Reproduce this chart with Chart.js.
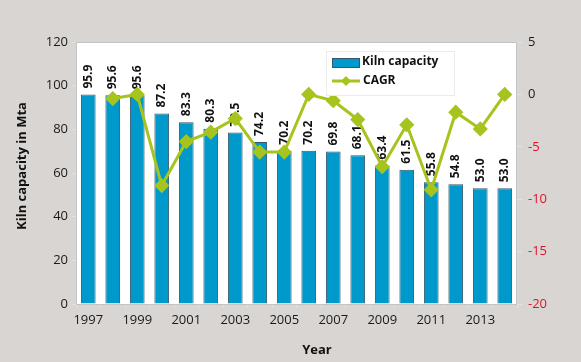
<!DOCTYPE html>
<html>
<head>
<meta charset="utf-8">
<script src="https://cdn.jsdelivr.net/npm/chart.js@4/dist/chart.umd.min.js"></script>
<style>
  html, body { margin: 0; padding: 0; background: #d9d5d2; }
  #wrap { width: 581px; height: 362px; position: relative; }
</style>
</head>
<body>
<div id="wrap"><canvas id="kilnChart" width="581" height="362"></canvas></div>
<script>
// ── Data ──────────────────────────────────────────────────────
const years = ['1997','1998','1999','2000','2001','2002','2003','2004','2005',
               '2006','2007','2008','2009','2010','2011','2012','2013','2014'];
const kilnCapacity = [95.9, 95.6, 95.6, 87.2, 83.3, 80.3, 78.5, 74.2, 70.2,
                      70.2, 69.8, 68.1, 63.4, 61.5, 55.8, 54.8, 53.0, 53.0];
const cagr = [null, -0.4, 0.0, -8.7, -4.5, -3.6, -2.3, -5.5, -5.5,
              0.0, -0.6, -2.4, -6.9, -2.9, -9.1, -1.7, -3.3, 0.0];
const capacityTicks = [0, 20, 40, 60, 80, 100, 120];
const cagrTicks = [-20, -15, -10, -5, 0, 5];

const BAR = '#0099cc', BAR_EDGE = '#35576a', LINE = '#a6c41e';
const FONT = '"Open Sans", "DejaVu Sans", sans-serif';

// ── Plugins ───────────────────────────────────────────────────
const plotFrame = {
  id: 'plotFrame',
  beforeDraw(chart) {
    const { ctx, chartArea: a } = chart;
    ctx.save();
    ctx.fillStyle = '#ffffff';
    ctx.fillRect(a.left, a.top, a.width, a.height);
    ctx.restore();
  },
  beforeDatasetsDraw(chart) {
    const { ctx, chartArea: a } = chart;
    ctx.save();
    ctx.strokeStyle = '#c4c4c4';
    ctx.lineWidth = 1;
    ctx.strokeRect(a.left + 0.5, a.top + 0.5, a.width - 1, a.height);
    ctx.restore();
  },
};

// value labels, drawn right after the bars so the line sits on top
const barLabels = {
  id: 'barLabels',
  afterDatasetDraw(chart, args) {
    if (args.index !== 0) return;
    const ctx = chart.ctx;
    ctx.save();
    ctx.font = 'bold 12px ' + FONT;
    ctx.fillStyle = '#111';
    ctx.textAlign = 'left';
    ctx.textBaseline = 'middle';
    args.meta.data.forEach((bar, i) => {
      ctx.save();
      ctx.translate(bar.x, bar.y - 6);
      ctx.rotate(-Math.PI / 2);
      ctx.fillText(kilnCapacity[i].toFixed(1), 0, 0);
      ctx.restore();
    });
    ctx.restore();
  },
};

const legendAndTitles = {
  id: 'legendAndTitles',
  afterDraw(chart) {
    const ctx = chart.ctx;
    const ds = chart.data.datasets;
    ctx.save();
    // legend box
    ctx.fillStyle = '#ffffff';
    ctx.fillRect(326, 51, 128, 44);
    ctx.strokeStyle = '#ebebeb';
    ctx.strokeRect(326.5, 51.5, 128, 44);
    ctx.fillStyle = BAR;
    ctx.fillRect(332, 58, 28, 10);
    ctx.strokeStyle = BAR_EDGE;
    ctx.lineWidth = 1;
    ctx.strokeRect(332.5, 58.5, 27, 9);
    ctx.strokeStyle = LINE;
    ctx.lineWidth = 3;
    ctx.beginPath(); ctx.moveTo(332, 81); ctx.lineTo(360, 81); ctx.stroke();
    ctx.fillStyle = LINE;
    ctx.beginPath();
    ctx.moveTo(346, 76); ctx.lineTo(351, 81); ctx.lineTo(346, 86); ctx.lineTo(341, 81);
    ctx.closePath(); ctx.fill();
    ctx.fillStyle = '#111';
    ctx.font = 'bold 12px ' + FONT;
    ctx.textBaseline = 'middle';
    ctx.textAlign = 'left';
    ctx.fillText(ds[0].label, 362, 62);
    ctx.fillText(ds[1].label, 363, 81);
    // axis titles
    ctx.font = 'bold 13px ' + FONT;
    ctx.textAlign = 'center';
    ctx.fillText('Year', 317, 350);
    ctx.translate(22, 166);
    ctx.rotate(-Math.PI / 2);
    ctx.fillText('Kiln capacity in Mta', 0, 0);
    ctx.restore();
  },
};

// ── Chart ─────────────────────────────────────────────────────
new Chart(document.getElementById('kilnChart'), {
  data: {
    labels: years,
    datasets: [
      {
        type: 'bar',
        label: 'Kiln capacity',
        data: kilnCapacity,
        backgroundColor: BAR,
        borderColor: BAR_EDGE,
        borderWidth: 1,
        barPercentage: 0.6,
        categoryPercentage: 1,
        yAxisID: 'y',
        order: 2,
      },
      {
        type: 'line',
        label: 'CAGR',
        data: cagr,
        borderColor: LINE,
        backgroundColor: LINE,
        borderWidth: 3,
        pointStyle: 'rectRot',
        pointRadius: 5.5,
        pointHoverRadius: 5.5,
        tension: 0,
        yAxisID: 'y2',
        order: 1,
      },
    ],
  },
  options: {
    responsive: false,
    animation: false,
    layout: { padding: { top: 42, left: 0, right: 0, bottom: 0 } },
    plugins: { legend: { display: false }, tooltip: { enabled: false } },
    scales: {
      x: {
        offset: true,
        grid: { display: true, drawOnChartArea: false, color: '#e2e2e2', tickLength: 4 },
        border: { display: false },
        ticks: {
          autoSkip: false, maxRotation: 0, padding: 4,
          color: '#1a1a1a', font: { family: FONT, size: 13 },
          callback: (v, i) => (i % 2 === 0 ? years[i] : ''),
        },
        afterFit: s => { s.height = 58; },
      },
      y: {
        position: 'left',
        min: 0, max: 120,
        afterBuildTicks: s => { s.ticks = capacityTicks.map(v => ({ value: v })); },
        grid: { display: true, drawOnChartArea: false, color: '#e2e2e2', tickLength: 4 },
        border: { display: false },
        ticks: { padding: 4, color: '#1a1a1a', font: { family: FONT, size: 13 } },
        afterFit: s => { s.width = 76; },
      },
      y2: {
        position: 'right',
        min: -20, max: 5,
        afterBuildTicks: s => { s.ticks = cagrTicks.map(v => ({ value: v })); },
        grid: { display: true, drawOnChartArea: false, color: '#e2e2e2', tickLength: 5 },
        border: { display: false },
        ticks: {
          padding: 6,
          color: c => (c.tick && c.tick.value < 0 ? '#e3122a' : '#1a1a1a'),
          font: { family: FONT, size: 13 },
        },
        afterFit: s => { s.width = 64; },
      },
    },
  },
  plugins: [plotFrame, barLabels, legendAndTitles],
});
</script>
</body>
</html>
